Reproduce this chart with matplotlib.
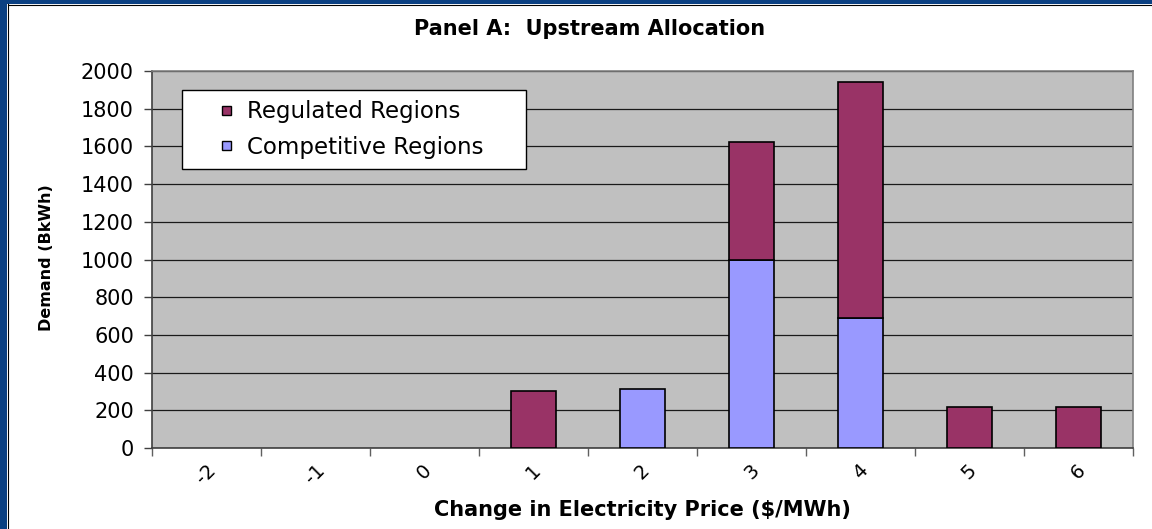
""" Panel A: upstream allocation, stacked demand bars by price change """
import numpy as np
import matplotlib
matplotlib.use("Agg")
import matplotlib.pyplot as plt
from matplotlib.patches import Patch, Rectangle
from matplotlib.legend_handler import HandlerPatch

# Chart data
price_change = ["-2", "-1", "0", "1", "2", "3", "4", "5", "6"]
competitive = [0, 0, 0, 0, 315, 1000, 688, 0, 0]
regulated = [0, 0, 0, 300, 0, 622, 1255, 220, 220]
y_ticks = [0, 200, 400, 600, 800, 1000, 1200, 1400, 1600, 1800, 2000]

reg_color = "#993366"
comp_color = "#9999FF"

plt.rcParams['font.family'] = ['DejaVu Sans']

fig = plt.figure(figsize=(11.52, 5.29), dpi=100)
fig.patch.set_facecolor("white")

# Dark blue frame on the left and top edge
fig.patches.append(Rectangle((0, 0), 7 / 1152, 1, transform=fig.transFigure,
                             facecolor="#0B4082", edgecolor="none", zorder=0))
fig.patches.append(Rectangle((0, 1 - 4 / 529), 1, 4 / 529, transform=fig.transFigure,
                             facecolor="#0B4082", edgecolor="none", zorder=0))
fig.lines.append(plt.Line2D([7.5 / 1152, 7.5 / 1152], [0, 1 - 4 / 529],
                            transform=fig.transFigure, color="black", lw=0.8))
fig.lines.append(plt.Line2D([7.5 / 1152, 1], [1 - 4.5 / 529, 1 - 4.5 / 529],
                            transform=fig.transFigure, color="black", lw=0.8))

ax = fig.add_axes([152 / 1152, 1 - 448 / 529, 981 / 1152, 377 / 529])
ax.set_facecolor("#C0C0C0")

x = np.arange(len(price_change))
comp = np.array(competitive, dtype=float)
reg = np.array(regulated, dtype=float)
width = 0.41
# skip the empty segments so no flat line shows on the axis
c_idx = comp > 0
r_idx = reg > 0
ax.bar(x[c_idx], comp[c_idx], width, color=comp_color, edgecolor="black",
       linewidth=1.2, zorder=3)
ax.bar(x[r_idx], reg[r_idx], width, bottom=comp[r_idx], color=reg_color,
       edgecolor="black", linewidth=1.2, zorder=3)

ax.set_xlim(-0.5, len(price_change) - 0.5)
ax.set_ylim(0, 2000)
ax.set_yticks(y_ticks)
ax.yaxis.grid(True, color="#1a1a1a", linewidth=0.9, zorder=1)
ax.set_axisbelow(True)

ax.set_xticks(x)
ax.set_xticklabels(price_change, rotation=45, fontsize=14)
ax.set_xticks(np.arange(-0.5, len(price_change)), minor=True)
ax.tick_params(axis="x", which="major", length=0, pad=9)
ax.tick_params(axis="x", which="minor", length=6, width=1, color="#606060", direction="out")
ax.tick_params(axis="y", length=6, width=1, color="#404040", labelsize=15, pad=7)

for side in ["top", "right"]:
    ax.spines[side].set_color("#808080")
    ax.spines[side].set_linewidth(1.2)
for side in ["left", "bottom"]:
    ax.spines[side].set_color("#404040")
    ax.spines[side].set_linewidth(1.2)

fig.text(590 / 1152, 1 - 29 / 529, "Panel A:  Upstream Allocation", ha="center",
         va="center", fontsize=15, fontweight="bold")
fig.text(642 / 1152, 1 - 510 / 529, "Change in Electricity Price ($/MWh)", ha="center",
         va="center", fontsize=15, fontweight="bold")
fig.text(47 / 1152, 1 - 258 / 529, "Demand (BkWh)", ha="center", va="center",
         rotation=90, fontsize=11.5, fontweight="bold")


# small square key pushed to the right end of the handle box
def square_key(legend, orig_handle, xdescent, ydescent, width, height, fontsize):
    s = 6.5
    return Rectangle((width - xdescent - s, -ydescent + (height - s) / 2), s, s)


handles = [Patch(facecolor=reg_color, edgecolor="black", linewidth=1, label="Regulated Regions"),
           Patch(facecolor=comp_color, edgecolor="black", linewidth=1, label="Competitive Regions")]
leg = ax.legend(handles=handles, loc="upper left",
                bbox_to_anchor=(0.0306, 0.732, 0.3507, 0.2176), mode="expand",
                fontsize=16.5, frameon=True, fancybox=False, handlelength=1.7,
                handleheight=0.7, handletextpad=0.7, borderpad=0.45, labelspacing=0.55,
                borderaxespad=0,
                handler_map={Patch: HandlerPatch(patch_func=square_key)})
leg.get_frame().set_edgecolor("black")
leg.get_frame().set_linewidth(1)
leg.get_frame().set_facecolor("white")
leg.get_frame().set_alpha(1)

fig.savefig("out.png", dpi=100)
